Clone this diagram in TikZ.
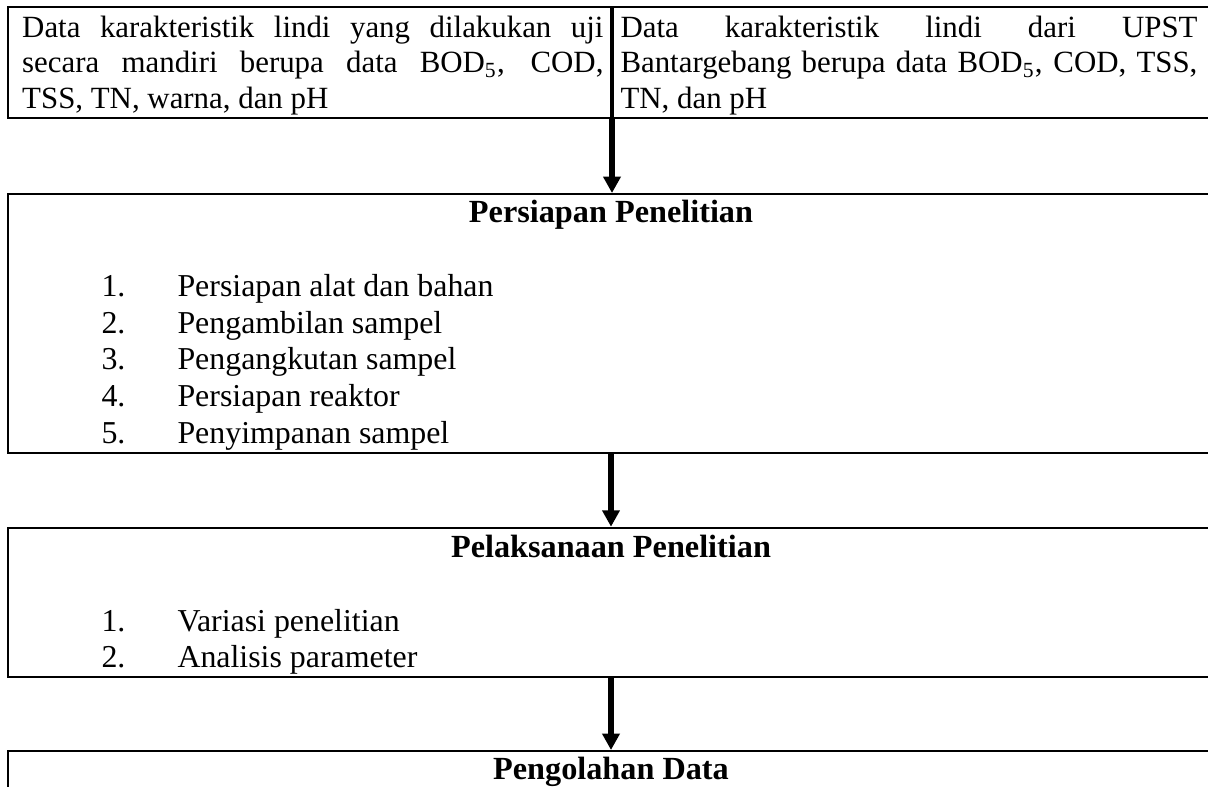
\documentclass[tikz,border=0pt]{standalone}
\usepackage{fontspec}
\setmainfont{Liberation Serif}
\usetikzlibrary{arrows.meta,positioning,calc}

\tikzset{
  kotak/.style={draw, rectangle, line width=0.8pt, anchor=north west, inner sep=0pt},
  isi/.style={inner sep=0pt, font=\fontsize{12.7pt}{14.2pt}\selectfont},
  sel/.style={inner sep=0pt, anchor=north west, align=justify, font=\fontsize{12.3pt}{14.2pt}\selectfont},
  judul/.style={inner sep=0pt, anchor=base, font=\fontsize{12.85pt}{14.2pt}\selectfont\bfseries},
  panah/.style={-{Triangle[width=6.7pt,length=6.5pt]}, line width=2pt}
}

\begin{document}
\begin{tikzpicture}
\clip (0,0) rectangle (16.912,-11.018);

% baris atas: dua sel data karakteristik
\node[kotak, minimum width=8.446cm, minimum height=1.554cm] (selkiri) at (0.094,-0.084) {};
\node[kotak, minimum width=8.6cm, minimum height=1.554cm] (selkanan) at (selkiri.north east) {};
\node[sel, text width=8.138cm] (tekskiri) at (0.304,-0.163) {
\makebox[8.138cm][s]{\rule{0pt}{10pt}Data karakteristik lindi yang dilakukan uji}\\
\makebox[8.138cm][s]{secara mandiri berupa data BOD\textsubscript{5}, COD,}\\
TSS, TN, warna, dan pH
};
\node[sel, text width=8.078cm] (tekskanan) at (8.68,-0.163) {
\makebox[8.078cm][s]{\rule{0pt}{10pt}Data karakteristik lindi dari UPST}\\
\makebox[8.078cm][s]{Bantargebang berupa data BOD\textsubscript{5}, COD, TSS,}\\
TN, dan pH
};

% Persiapan Penelitian
\node[kotak, minimum width=16.892cm, minimum height=3.626cm] (persiapan) at (0.094,-2.702) {};
\node[judul] (judulpersiapan) at ($(persiapan.north)+(0,-0.42)$) {Persiapan Penelitian};
\node[isi, anchor=base west] (no1) at (1.414,-4.154) {1.};
\node[isi, anchor=base west] (no2) at (1.414,-4.666) {2.};
\node[isi, anchor=base west] (no3) at (1.414,-5.180) {3.};
\node[isi, anchor=base west] (no4) at (1.414,-5.694) {4.};
\node[isi, anchor=base west] (no5) at (1.414,-6.206) {5.};
\node[isi, anchor=base west] (alat) at (2.478,-4.154) {Persiapan alat dan bahan};
\node[isi, anchor=base west] (ambil) at (2.478,-4.666) {Pengambilan sampel};
\node[isi, anchor=base west] (angkut) at (2.478,-5.180) {Pengangkutan sampel};
\node[isi, anchor=base west] (reaktor) at (2.478,-5.694) {Persiapan reaktor};
\node[isi, anchor=base west] (simpan) at (2.478,-6.206) {Penyimpanan sampel};

% Pelaksanaan Penelitian
\node[kotak, minimum width=16.892cm, minimum height=2.09cm] (pelaksanaan) at (0.094,-7.374) {};
\node[judul] (judulpelaksanaan) at ($(pelaksanaan.north)+(0,-0.428)$) {Pelaksanaan Penelitian};
\node[isi, anchor=base west] (no6) at (1.414,-8.844) {1.};
\node[isi, anchor=base west] (no7) at (1.414,-9.348) {2.};
\node[isi, anchor=base west] (variasi) at (2.478,-8.844) {Variasi penelitian};
\node[isi, anchor=base west] (analisis) at (2.478,-9.348) {Analisis parameter};

% Pengolahan Data
\node[kotak, minimum width=16.892cm, minimum height=1.2cm] (pengolahan) at (0.094,-10.5) {};
\node[judul] (judulpengolahan) at ($(pengolahan.north)+(0,-0.412)$) {Pengolahan Data};

% alur
\draw[panah] (selkiri.south east) -- (selkiri.south east |- persiapan.north);
\draw[panah] (persiapan.south) -- (pelaksanaan.north);
\draw[panah] (pelaksanaan.south) -- (pengolahan.north);
\end{tikzpicture}
\end{document}
